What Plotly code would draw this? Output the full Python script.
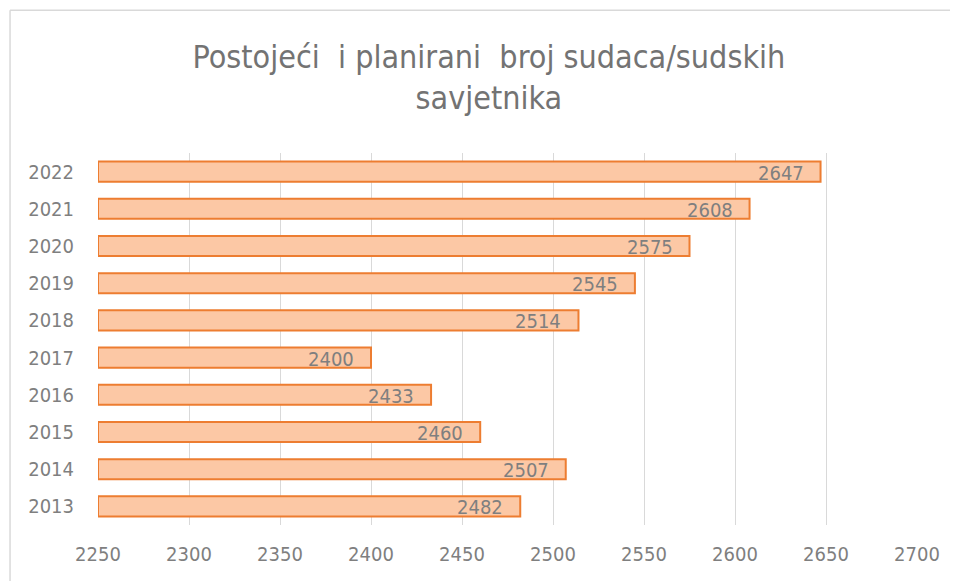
import plotly.graph_objects as go

years = ["2013", "2014", "2015", "2016", "2017", "2018", "2019", "2020", "2021", "2022"]
values = [2482, 2507, 2460, 2433, 2400, 2514, 2545, 2575, 2608, 2647]
axis_start = 2250
x_ticks = [2250, 2300, 2350, 2400, 2450, 2500, 2550, 2600, 2650, 2700]

FONT = "DejaVu Sans Condensed, Liberation Sans Narrow, Roboto, sans-serif"

fig = go.Figure()
fig.add_trace(go.Bar(
    y=years,
    x=[v - axis_start for v in values],
    base=axis_start,
    orientation="h",
    marker=dict(color="#fcc8a5", line=dict(color="#ed7d31", width=2)),
    hoverinfo="skip",
))

# data labels, inside end of each bar (y given as the category index)
for idx, v in enumerate(values):
    fig.add_annotation(
        x=v, y=idx, xref="x", yref="y",
        text=str(v), showarrow=False,
        xanchor="right", yanchor="middle", xshift=-15, yshift=-1,
        font=dict(family=FONT, size=20, color="#7f7f7f"),
    )

fig.update_layout(
    width=958, height=581,
    margin=dict(l=90, r=49, t=145, b=64),
    paper_bgcolor="white", plot_bgcolor="white",
    showlegend=False,
    bargap=0.46,
    title=dict(
        text="Postojeći  i planirani  broj sudaca/sudskih<br>savjetnika",
        x=0.502, xanchor="center", yref="container", y=0.897, yanchor="top",
        font=dict(family=FONT, size=32, color="#737373"),
    ),
    xaxis=dict(
        range=[axis_start, 2700], tickvals=x_ticks,
        showgrid=True, gridcolor="#d9d9d9", gridwidth=1,
        zeroline=False, showline=False, ticks="",
        ticklabelstandoff=15, automargin=False,
        tickfont=dict(family=FONT, size=20, color="#7f7f7f"),
    ),
    yaxis=dict(
        type="category",
        categoryorder="array", categoryarray=years,
        range=[-0.5, len(years) - 0.5],
        showgrid=False, zeroline=False, showline=False, ticks="",
        ticklabelstandoff=23, automargin=False,
        tickfont=dict(family=FONT, size=20, color="#7f7f7f"),
    ),
)

# chart frame border (left and top edges visible)
fig.add_shape(type="line", xref="paper", yref="paper",
              x0=-0.1074, x1=-0.1074, y0=1.384, y1=-0.2,
              line=dict(color="#d9d9d9", width=1.5))
fig.add_shape(type="line", xref="paper", yref="paper",
              x0=-0.1074, x1=1.2, y0=1.384, y1=1.384,
              line=dict(color="#d9d9d9", width=1.5))

fig.write_html("out.html")
